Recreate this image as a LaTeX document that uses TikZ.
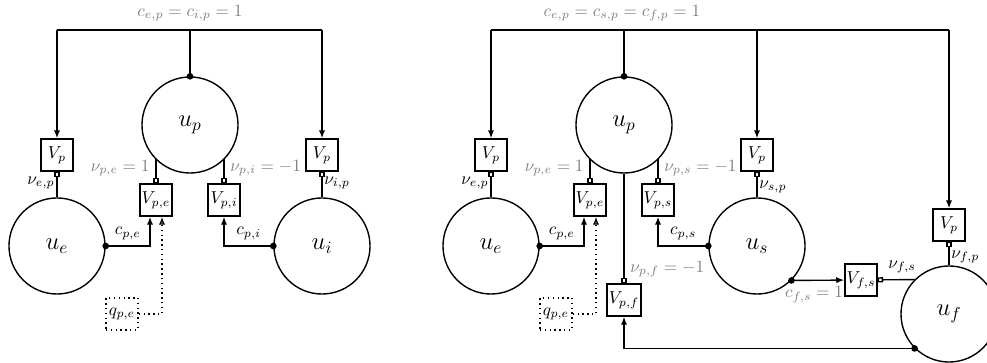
\documentclass[tikz,border=0pt]{standalone}
\usepackage{amsmath}
\usepackage{amssymb}
\usetikzlibrary{arrows.meta}

\tikzset{
  unit/.style={circle, draw, thick, minimum size=55.7pt, inner sep=0pt, font=\Large},
  vbox/.style={rectangle, draw, thick, minimum size=18.6pt, inner sep=1pt},
  qbox/.style={vbox, dotted},
  link/.style={thick},
  param/.style={text=gray},
  feed/.style={link, -{Latex[length=4.6pt,width=3.6pt]}},
  tap/.style={link, {Circle[length=3.8pt]}-{Latex[length=4.6pt,width=3.6pt]}, shorten <=-1.9pt},
  tapdot/.style={link, {Circle[length=3.8pt]}-, shorten <=-1.9pt},
  port/.style={link, {Square[open,length=3pt,width=3pt]}-},
  extin/.style={link, dotted, -{Latex[open,length=4.6pt,width=3.6pt]}}
}

\begin{document}
\begin{tikzpicture}[x=0.58pt,y=-0.58pt]
\useasboundingbox (0,0) rectangle (987,363);

% Left network: units
\node[unit] (upA) at (190,125) {$u_p$};
\node[unit] (ueA) at (57,246) {$u_e$};
\node[unit] (uiA) at (322,246) {$u_i$};

% Left network: boxes
\node[vbox] (vpEA) at (57,155) {$V_p$};
\node[vbox] (vpIA) at (322,155) {$V_p$};
\node[vbox] (vpeA) at (156,200) {$V_{p,e}$};
\node[vbox] (vpiA) at (224,200) {$V_{p,i}$};
\node[qbox] (qpeA) at (122,314) {$q_{p,e}$};

% Left network: bus
\coordinate (busLA) at (57,30);
\coordinate (busMA) at (190,30);
\coordinate (busRA) at (322,30);
\draw[link] (busLA) -- (busRA);
\node[param] (cbusA) at (190,13) {$c_{e,p}=c_{i,p}=1$};
\draw[tapdot] (upA) -- (busMA);
\draw[feed] (busLA) -- (vpEA);
\draw[feed] (busRA) -- (vpIA);

% Left network: ports
\draw[port] (vpEA) -- (ueA) node[pos=0.44,left,inner sep=1pt] {$\nu_{e,p}$};
\draw[port] (vpIA) -- (uiA) node[pos=0.44,right,inner sep=1pt] {$\nu_{i,p}$};
\draw[port] (vpeA) -- (vpeA |- upA.225) node[pos=0.64,left,param] {$\nu_{p,e}=1$};
\draw[port] (vpiA) -- (vpiA |- upA.315) node[pos=0.64,right,param] {$\nu_{p,i}=-1$};

% Left network: taps
\draw[tap] (ueA) -| ([xshift=-3.48pt]vpeA.south) node[pos=0.25,above] {$c_{p,e}$};
\draw[tap] (uiA) -| (vpiA) node[pos=0.25,above] {$c_{p,i}$};
\draw[extin] (qpeA) -| ([xshift=3.48pt]vpeA.south);

% Right network: units
\node[unit] (upB) at (624,125) {$u_p$};
\node[unit] (ueB) at (491,246) {$u_e$};
\node[unit] (usB) at (757,246) {$u_s$};
\node[unit] (ufB) at (949,314) {$u_f$};

% Right network: boxes
\node[vbox] (vpEB) at (491,155) {$V_p$};
\node[vbox] (vpSB) at (757,155) {$V_p$};
\node[vbox] (vpFB) at (949,225) {$V_p$};
\node[vbox] (vpeB) at (590,200) {$V_{p,e}$};
\node[vbox] (vpsB) at (658,200) {$V_{p,s}$};
\node[vbox] (vpfB) at (624,300) {$V_{p,f}$};
\node[vbox] (vfsB) at (861,280) {$V_{f,s}$};
\node[qbox] (qpeB) at (556,314) {$q_{p,e}$};

% Right network: bus
\coordinate (busLB) at (491,30);
\coordinate (busMB) at (624,30);
\coordinate (busRB) at (949,30);
\draw[link] (busLB) -- (busRB);
\node[param] (cbusB) at (622,13) {$c_{e,p}=c_{s,p}=c_{f,p}=1$};
\draw[tapdot] (upB) -- (busMB);
\draw[feed] (busLB) -- (vpEB);
\draw[feed] (vpSB |- busLB) -- (vpSB);
\draw[feed] (busRB) -- (vpFB);

% Right network: ports
\draw[port] (vpEB) -- (ueB) node[pos=0.44,left,inner sep=1pt] {$\nu_{e,p}$};
\draw[port] (vpSB) -- (usB) node[pos=0.6,right,inner sep=1pt] {$\nu_{s,p}$};
\draw[port] (vpFB) -- (ufB) node[pos=0.64,right,inner sep=1pt] {$\nu_{f,p}$};
\draw[port] (vpeB) -- (vpeB |- upB.225) node[pos=0.64,left,param] {$\nu_{p,e}=1$};
\draw[port] (vpsB) -- (vpsB |- upB.315) node[pos=0.64,right,param] {$\nu_{p,s}=-1$};
\draw[port] (vpfB) -- (upB) node[pos=0.13,right,param] {$\nu_{p,f}=-1$};
\draw[port] (vfsB) -- (ufB.135) node[pos=0.66,above] {$\nu_{f,s}$};

% Right network: taps
\draw[tap] (ueB) -| ([xshift=-3.48pt]vpeB.south) node[pos=0.25,above] {$c_{p,e}$};
\draw[tap] (usB) -| (vpsB) node[pos=0.25,above] {$c_{p,s}$};
\draw[tap] (usB.315) -- (vfsB) node[pos=0.43,below,param] {$c_{f,s}=1$};
\draw[tap] (ufB.225) -| (vpfB);
\draw[extin] (qpeB) -| ([xshift=3.48pt]vpeB.south);

\end{tikzpicture}
\end{document}
